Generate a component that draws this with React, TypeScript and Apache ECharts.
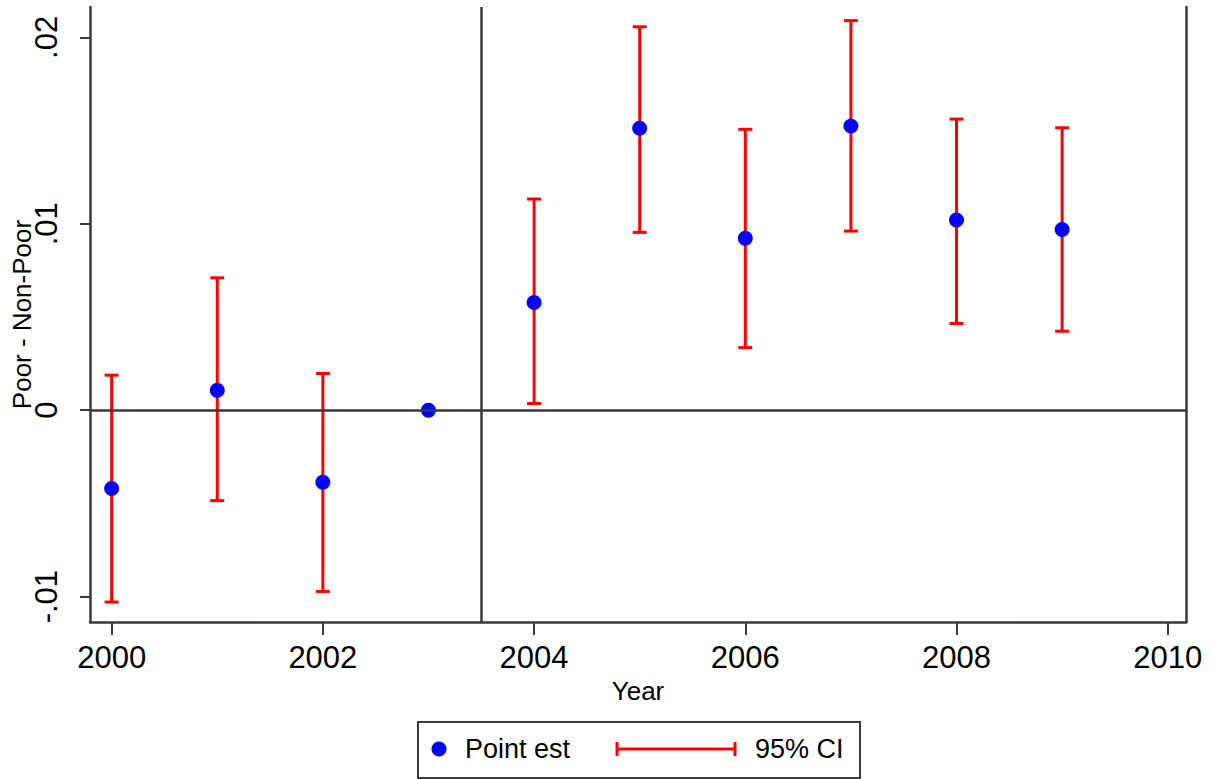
import React, { useEffect, useRef } from "react";
import * as echarts from "echarts";

// Event-study estimates: difference between poor and non-poor, by year
const years = [2000, 2001, 2002, 2003, 2004, 2005, 2006, 2007, 2008, 2009];
const pointEst = [-0.0042, 0.00107, -0.00386, 0, 0.00578, 0.01512, 0.00922, 0.01524, 0.0102, 0.0097];
// 95% confidence bounds (base year 2003 has none)
const ciLow = [-0.01029, -0.00485, -0.00972, null, 0.00036, 0.00954, 0.00336, 0.00961, 0.00465, 0.00424];
const ciHigh = [0.00188, 0.0071, 0.00197, null, 0.01133, 0.02057, 0.01507, 0.0209, 0.01562, 0.01515];

const xTicks = [2000, 2002, 2004, 2006, 2008, 2010];
const yTicks = [-0.01, 0, 0.01, 0.02];
const yTickLabels = ["-.01", "0", ".01", ".02"];

const treatmentCut = 2003.5;

const FONT = "'Liberation Sans', Arial, sans-serif";
const AXIS_COLOR = "#3a3a3a";
const RED = "#ff0000";
const BLUE = "#0000ff";

export default function App() {
  const ref = useRef<HTMLDivElement>(null);

  useEffect(() => {
    document.body.style.margin = "0";
    if (!ref.current) return;
    const chart = echarts.init(ref.current, undefined, { renderer: "svg" });

    const ciData = years
      .map((y, i) => [y, ciLow[i], ciHigh[i]])
      .filter((d) => d[1] !== null && d[2] !== null);

    const capHalf = 7;
    const barStyle = { stroke: RED, lineWidth: 3 };

    const option: any = {
      animation: false,
      backgroundColor: "#ffffff",
      grid: { left: 90, right: 29, top: 7, bottom: 157, outerBoundsMode: "none", containLabel: false },
      xAxis: {
        type: "value",
        min: 1999.795,
        max: 2010.173,
        name: "Year",
        nameLocation: "middle",
        nameGap: 51,
        nameTextStyle: { fontFamily: FONT, fontSize: 26, color: "#000" },
        axisLine: { show: true, onZero: false, lineStyle: { color: AXIS_COLOR, width: 2.5 } },
        axisTick: { show: true, length: 13, customValues: xTicks, lineStyle: { color: AXIS_COLOR, width: 2 } },
        axisLabel: {
          customValues: xTicks,
          margin: 20,
          fontFamily: FONT,
          fontSize: 31,
          color: "#000",
          formatter: (v: number) => String(Math.round(v)),
        },
        splitLine: { show: false },
      },
      yAxis: [
        {
          type: "value",
          min: -0.01136,
          max: 0.02163,
          name: "Poor - Non-Poor",
          nameLocation: "middle",
          nameRotate: 90,
          nameGap: 55,
          nameMoveOverlap: false,
          nameTextStyle: { fontFamily: FONT, fontSize: 26, color: "#000" },
          axisLine: { show: true, onZero: false, lineStyle: { color: AXIS_COLOR, width: 2.5 } },
          axisTick: { show: true, length: 10, customValues: yTicks, lineStyle: { color: AXIS_COLOR, width: 2 } },
          axisLabel: {
            customValues: yTicks,
            rotate: 90,
            margin: 28,
            fontFamily: FONT,
            fontSize: 31,
            color: "#000",
            formatter: (v: number) => {
              const idx = yTicks.findIndex((t) => Math.abs(t - v) < 1e-9);
              return idx >= 0 ? yTickLabels[idx] : "";
            },
          },
          splitLine: { show: false },
        },
        {
          type: "value",
          position: "right",
          min: -0.01136,
          max: 0.02163,
          axisLine: { show: true, onZero: false, lineStyle: { color: AXIS_COLOR, width: 2.5 } },
          axisTick: { show: false },
          axisLabel: { show: false },
          splitLine: { show: false },
        },
      ],
      series: [
        {
          // reference lines: zero effect and treatment start
          type: "line",
          data: [],
          z: 1,
          silent: true,
          markLine: {
            silent: true,
            symbol: "none",
            label: { show: false },
            lineStyle: { color: AXIS_COLOR, width: 2.5, type: "solid" },
            data: [{ xAxis: treatmentCut }, { yAxis: 0 }],
          },
        },
        {
          name: "95% CI",
          type: "custom",
          z: 3,
          data: ciData,
          encode: { x: 0, y: [1, 2] },
          renderItem: (_params: any, api: any) => {
            const x = api.value(0);
            const top = api.coord([x, api.value(2)]);
            const bot = api.coord([x, api.value(1)]);
            return {
              type: "group",
              children: [
                { type: "line", shape: { x1: top[0], y1: top[1], x2: bot[0], y2: bot[1] }, style: barStyle },
                { type: "line", shape: { x1: top[0] - capHalf, y1: top[1], x2: top[0] + capHalf, y2: top[1] }, style: barStyle },
                { type: "line", shape: { x1: bot[0] - capHalf, y1: bot[1], x2: bot[0] + capHalf, y2: bot[1] }, style: barStyle },
              ],
            };
          },
        },
        {
          name: "Point est",
          type: "scatter",
          z: 4,
          symbol: "circle",
          symbolSize: 15,
          itemStyle: { color: BLUE, opacity: 1 },
          data: years.map((y, i) => [y, pointEst[i]]),
        },
      ],
      graphic: [
        {
          type: "group",
          left: 417,
          top: 721,
          children: [
            { type: "rect", shape: { x: 0, y: 0, width: 442, height: 56 }, style: { fill: "#fff", stroke: AXIS_COLOR, lineWidth: 2 } },
            { type: "circle", shape: { cx: 21, cy: 27, r: 7.5 }, style: { fill: BLUE } },
            { type: "text", x: 47, y: 27, style: { text: "Point est", font: `27px ${FONT}`, fill: "#000", verticalAlign: "middle" } },
            { type: "line", shape: { x1: 199, y1: 27, x2: 317, y2: 27 }, style: barStyle },
            { type: "line", shape: { x1: 199, y1: 20, x2: 199, y2: 34 }, style: barStyle },
            { type: "line", shape: { x1: 317, y1: 20, x2: 317, y2: 34 }, style: barStyle },
            { type: "text", x: 337, y: 27, style: { text: "95% CI", font: `27px ${FONT}`, fill: "#000", verticalAlign: "middle" } },
          ],
        },
      ],
    };

    chart.setOption(option);
    return () => chart.dispose();
  }, []);

  return <div ref={ref} style={{ width: 1215, height: 779 }} />;
}
